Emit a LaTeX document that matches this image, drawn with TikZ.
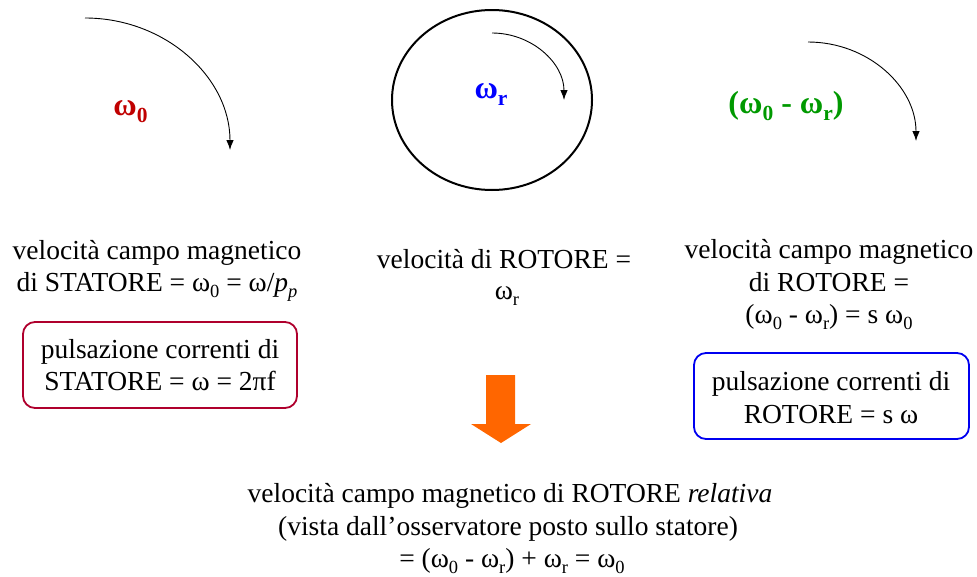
\documentclass[tikz,border=0pt]{standalone}
\usepackage{fontspec}
\setmainfont{Liberation Serif}
\usetikzlibrary{arrows.meta}
\definecolor{omred}{RGB}{192,0,0}
\definecolor{omblue}{RGB}{0,0,255}
\definecolor{omgreen}{RGB}{0,153,0}
\definecolor{boxred}{RGB}{175,0,45}
\definecolor{boxblue}{RGB}{0,0,240}
\definecolor{arrorange}{RGB}{255,102,0}
\newcommand\sbs[2][18.5]{\raisebox{-0.22em}{\fontsize{#1}{#1}\selectfont #2}}
\begin{document}
\begin{tikzpicture}[x=1pt,y=-1pt,
  txt/.style={inner sep=0pt, anchor=base, font=\fontsize{27.5}{33}\selectfont},
  lbl/.style={inner sep=0pt, anchor=base, font=\fontsize{32}{36}\selectfont\bfseries},
  rot/.style={line width=0.9pt, -{Latex[length=10pt,width=7.5pt]}},
  rbox/.style={rounded corners=12pt, line width=1.8pt}]
\useasboundingbox (0,0) rectangle (977,576);

% rotation arcs
\coordinate (a1s) at (85,18);
\draw[rot] (a1s) arc[start angle=-90, end angle=0, x radius=145, y radius=132];
\coordinate (a2s) at (492,33);
\draw[rot] (a2s) arc[start angle=-90, end angle=0, x radius=72, y radius=67];
\coordinate (a3s) at (808,42);
\draw[rot] (a3s) arc[start angle=-90, end angle=0, x radius=108, y radius=99];

% rotor circle
\coordinate (rc) at (492,100);
\draw[line width=2pt] (rc) ellipse[x radius=100, y radius=90];

% top labels
\node[lbl, text=omred] (w0) at (130.5,115) {ω\sbs[21.5]{0}};
\node[lbl, text=omblue] (wr) at (491,98) {ω\sbs[21.5]{r}};
\node[lbl, text=omgreen] (wd) at (786,113) {(ω\sbs[21.5]{0} - ω\sbs[21.5]{r})};

% left column
\node[txt] (l1) at (157,259) {velocità campo magnetico};
\node[txt] (l2) at (157,291) {di STATORE = ω\sbs{0} = ω/\textit{p}\sbs{\textit{p}}};
\draw[rbox, draw=boxred] (23,322) rectangle (297,408);
\node[txt] (b1a) at (160,358) {pulsazione correnti di};
\node[txt] (b1b) at (160,390) {STATORE = ω = 2πf};

% middle column
\node[txt] (m1) at (504,268) {velocità di ROTORE =};
\node[txt] (m2) at (507,299) {ω\sbs{r}};

% right column
\node[txt] (r1) at (829,258) {velocità campo magnetico};
\node[txt] (r2) at (829,291) {di ROTORE =};
\node[txt] (r3) at (829,323) {(ω\sbs{0} - ω\sbs{r}) = s ω\sbs{0}};
\draw[rbox, draw=boxblue] (694,353) rectangle (969,439);
\node[txt] (b2a) at (831,390) {pulsazione correnti di};
\node[txt] (b2b) at (831,423) {ROTORE = s ω};

% orange arrow
\fill[arrorange] (486,375) -- (515,375) -- (515,424) -- (531,424) -- (501,443)
  -- (471,424) -- (486,424) -- cycle;

% bottom text
\node[txt] (t1) at (510,502) {velocità campo magnetico di ROTORE \textit{relativa}};
\node[txt] (t2) at (508,535) {(vista dall’osservatore posto sullo statore)};
\node[txt] (t3) at (512,567) {= (ω\sbs{0} - ω\sbs{r}) + ω\sbs{r} = ω\sbs{0}};
\end{tikzpicture}
\end{document}
